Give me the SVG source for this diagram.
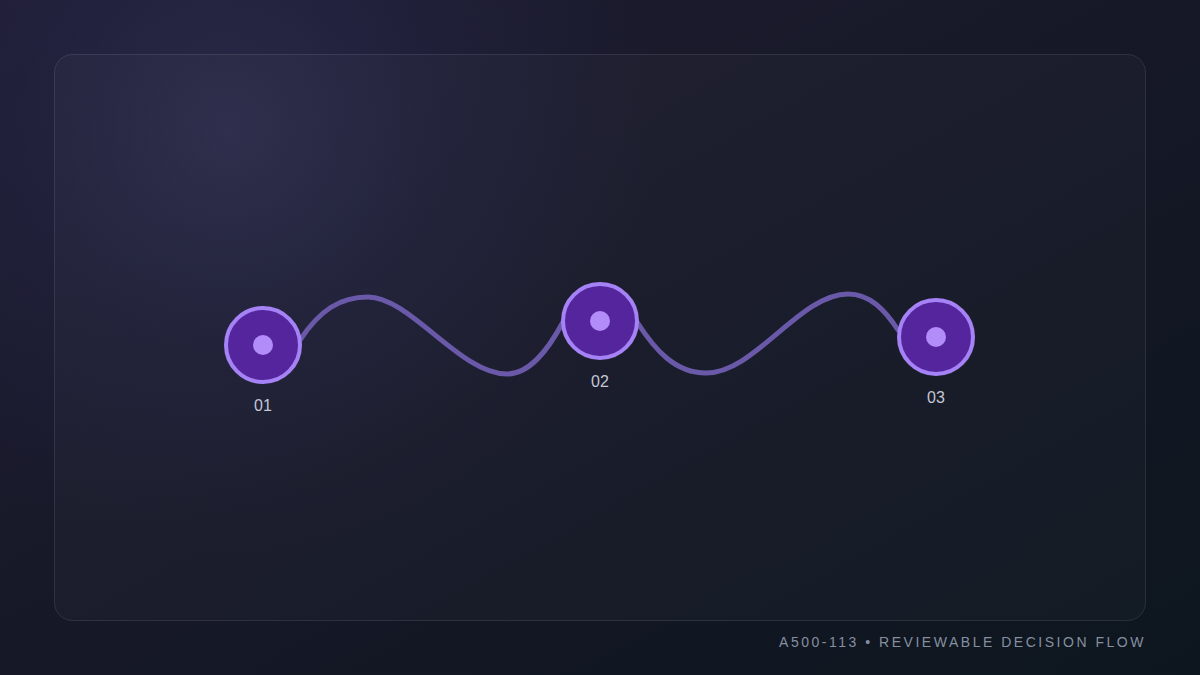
<svg xmlns="http://www.w3.org/2000/svg" width="1200" height="675" viewBox="0 0 1200 675">
<defs>
<linearGradient id="bg" x1="0" y1="0" x2="1" y2="1">
<stop offset="0" stop-color="#1f1d32"/>
<stop offset="0.5" stop-color="#161827"/>
<stop offset="1" stop-color="#0d161e"/>
</linearGradient>
<radialGradient id="glow" cx="230" cy="130" r="430" gradientUnits="userSpaceOnUse">
<stop offset="0" stop-color="#3a3a66" stop-opacity="0.5"/>
<stop offset="0.5" stop-color="#2b2d5a" stop-opacity="0.25"/>
<stop offset="1" stop-color="#2b2d5a" stop-opacity="0"/>
</radialGradient>
<style>
.node-ring{fill:#55259e;stroke:#a582f5;stroke-width:4}
.node-dot{fill:#b28cf8}
.lbl{font-family:"Liberation Sans",Arial,sans-serif;font-size:16px;fill:#c5c6d6;text-anchor:middle}
.wire{fill:none;stroke:#6a59a8;stroke-width:5;stroke-linecap:round}
.foot{font-family:"Liberation Sans",Arial,sans-serif;font-size:14px;fill:#858fa0;letter-spacing:2.52px;text-anchor:end}
</style>
</defs>
<rect width="1200" height="675" fill="url(#bg)"/>
<rect width="1200" height="675" fill="url(#glow)"/>
<rect x="54.5" y="54.5" width="1091" height="566" rx="18" fill="#ffffff" fill-opacity="0.025" stroke="#ffffff" stroke-opacity="0.1" stroke-width="1"/>
<g id="connectors">
<path class="wire" d="M 300 340 C 320 310, 340 297, 368 297 C 410 297, 460 374, 507 374 C 530 374, 548 350, 563 322"/>
<path class="wire" d="M 637 322 C 655 350, 675 373, 706 373 C 755 373, 800 294, 848 294 C 870 294, 885 310, 898 330"/>
</g>
<g id="node-01">
<circle class="node-ring" cx="263" cy="345" r="37"/>
<circle class="node-dot" cx="263" cy="345" r="10"/>
<text class="lbl" x="263" y="411">01</text>
</g>
<g id="node-02">
<circle class="node-ring" cx="600" cy="321" r="37"/>
<circle class="node-dot" cx="600" cy="321" r="10"/>
<text class="lbl" x="600" y="387">02</text>
</g>
<g id="node-03">
<circle class="node-ring" cx="936" cy="337" r="37"/>
<circle class="node-dot" cx="936" cy="337" r="10"/>
<text class="lbl" x="936" y="403">03</text>
</g>
<text class="foot" x="1146" y="647">A500-113 • REVIEWABLE DECISION FLOW</text>
</svg>
